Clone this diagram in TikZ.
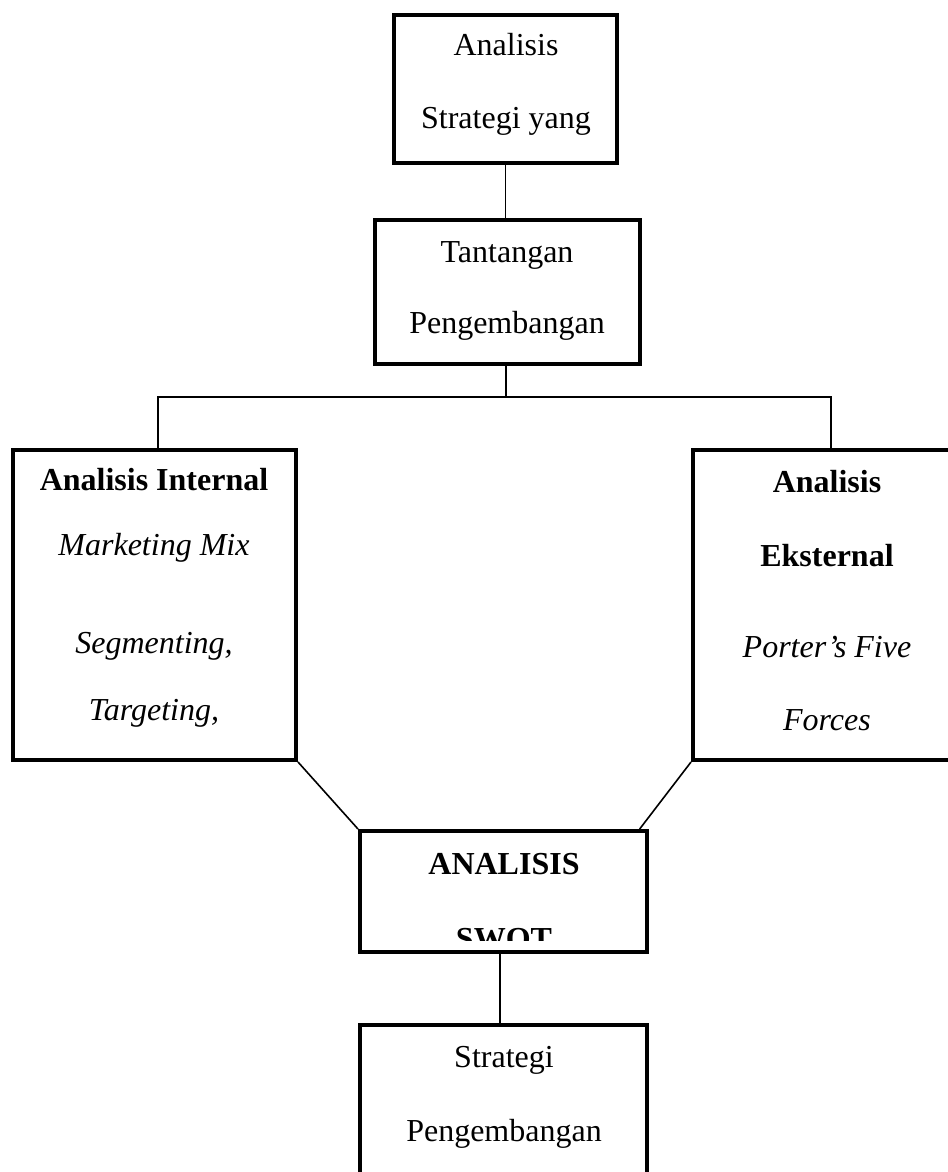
\documentclass[tikz,border=0pt]{standalone}
\usepackage{fontspec}
\setmainfont{Liberation Serif}
\begin{document}
\begin{tikzpicture}[x=0.75pt,y=-0.75pt,
  boxnode/.style={draw=black,line width=3pt,rectangle,inner sep=0pt,fill=none},
  lbl/.style={anchor=base,inner sep=0pt,font=\fontsize{24}{28}\selectfont},
  conn/.style={draw=black,line width=1.2pt}]
\clip (0,0) rectangle (948,1172);
\fill[white] (0,0) rectangle (948,1172);
% boxes
\node[boxnode,minimum width=167.25pt,minimum height=111pt] (top) at (505.5,89) {};
\node[boxnode,minimum width=198.75pt,minimum height=108pt] (tant) at (507.5,292) {};
\node[boxnode,minimum width=212.25pt,minimum height=232.5pt] (left) at (154.5,605) {};
\node[boxnode,minimum width=201pt,minimum height=232.5pt] (right) at (827,605) {};
\node[boxnode,minimum width=215.25pt,minimum height=90.75pt] (swot) at (503.5,891.5) {};
\node[boxnode,minimum width=215.25pt,minimum height=142.5pt] (bottom) at (503.5,1120) {};
% texts
\node[lbl] (t1) at (506,55) {Analisis};
\node[lbl] (t2) at (506,128) {Strategi yang};
\node[lbl] (t3) at (507,262) {Tantangan};
\node[lbl] (t4) at (507,333) {Pengembangan};
\node[lbl] (l1) at (154,490) {\bfseries Analisis Internal};
\node[lbl] (l2) at (154,555) {\itshape Marketing Mix};
\node[lbl] (l3) at (154,653) {\itshape Segmenting,};
\node[lbl] (l4) at (154,720) {\itshape Targeting,};
\node[lbl] (r1) at (827,492) {\bfseries Analisis};
\node[lbl] (r2) at (827,566) {\bfseries Eksternal};
\node[lbl] (r3) at (827,657) {\itshape Porter’s Five};
\node[lbl] (r4) at (827,730) {\itshape Forces};
\node[lbl] (s1) at (504,874) {\bfseries ANALISIS};
\begin{scope}
\clip (362,833) rectangle (645,940);
\node[lbl] (s2) at (504,949) {\bfseries SWOT};
\end{scope}
\node[lbl] (b1) at (504,1067) {Strategi};
\node[lbl] (b2) at (504,1141) {Pengembangan};
% connectors
\coordinate (hbar) at (506,397);
\draw[conn] (top.south) -- (top.south |- tant.north);
\draw[conn] (tant.south -| hbar) -- (hbar);
\draw[conn] ([xshift=2.5]left.north) |- (hbar) -| ([xshift=3]right.north);
\draw[conn] (left.south east) -- (swot.north west);
\draw[conn] (right.south west) -- ([xshift=-7]swot.north east);
\draw[conn] ([xshift=-2.5]swot.south) -- ([xshift=-2.5]bottom.north);
\end{tikzpicture}
\end{document}
